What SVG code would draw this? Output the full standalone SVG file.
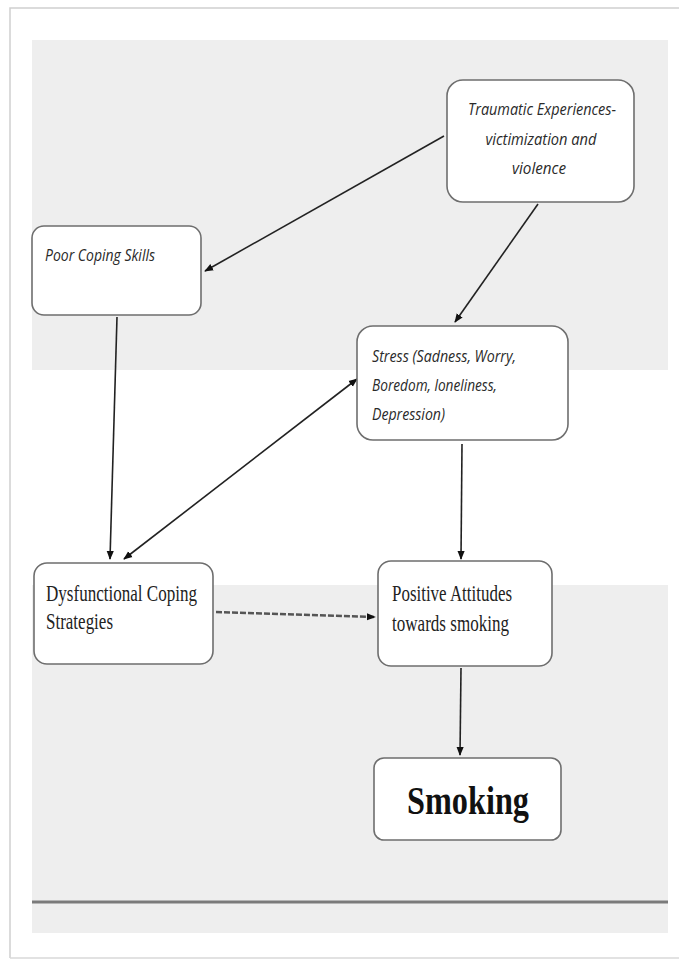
<svg xmlns="http://www.w3.org/2000/svg" width="679" height="962" viewBox="0 0 679 962">
<style>
.band{fill:#eeeeee}
.box{fill:#ffffff;stroke:#6e6e6e;stroke-width:1.6}
.it{font-family:"Open Sans","Noto Sans",sans-serif;font-style:italic;font-size:16px;fill:#2a2a2a}
.tm{font-family:"Liberation Serif","Times New Roman",serif;font-size:23px;fill:#222}
.ln{stroke:#222;stroke-width:1.6;fill:none}
</style>
<defs>
<marker id="ah" viewBox="0 0 10 10" refX="9" refY="5" markerWidth="9" markerHeight="9" orient="auto-start-reverse" markerUnits="userSpaceOnUse">
<path d="M0,1 L10,5 L0,9 z" fill="#111"/>
</marker>
</defs>
<rect x="0" y="0" width="679" height="962" fill="#ffffff"/>
<path d="M10,958 L10,8 L679,8" fill="none" stroke="#cfcfcf" stroke-width="1.5"/>
<line x1="10" y1="958" x2="679" y2="958" stroke="#d8d8d8" stroke-width="1.5"/>
<rect class="band" x="32" y="40" width="636" height="330"/>
<rect class="band" x="32" y="585" width="636" height="348"/>
<line x1="32" y1="902" x2="668" y2="902" stroke="#7a7a7a" stroke-width="3"/>

<g id="connectors">
<line class="ln" x1="444" y1="136" x2="205" y2="271" marker-end="url(#ah)"/>
<line class="ln" x1="538" y1="204" x2="455" y2="322" marker-end="url(#ah)"/>
<line class="ln" x1="117" y1="317" x2="110" y2="559" marker-end="url(#ah)"/>
<line class="ln" x1="124" y1="559" x2="357" y2="379" marker-start="url(#ah)" marker-end="url(#ah)"/>
<line class="ln" x1="462" y1="444" x2="461" y2="559" marker-end="url(#ah)"/>
<line x1="216" y1="612" x2="375" y2="617" stroke="#555" stroke-width="2.4" stroke-dasharray="6 2" marker-end="url(#ah)"/>
<line class="ln" x1="461" y1="668" x2="460" y2="755" marker-end="url(#ah)"/>
</g>

<g id="traumatic">
<rect class="box" x="447" y="80" width="187" height="122" rx="16"/>
<text class="it" x="542" y="115" text-anchor="middle" textLength="148" lengthAdjust="spacingAndGlyphs">Traumatic Experiences-</text>
<text class="it" x="541" y="145" text-anchor="middle" textLength="111" lengthAdjust="spacingAndGlyphs">victimization and</text>
<text class="it" x="539" y="174" text-anchor="middle" textLength="54" lengthAdjust="spacingAndGlyphs">violence</text>
</g>

<g id="poor-coping">
<rect class="box" x="32" y="226" width="169" height="89" rx="12"/>
<text class="it" x="45" y="261" textLength="110" lengthAdjust="spacingAndGlyphs">Poor Coping Skills</text>
</g>

<g id="stress">
<rect class="box" x="357" y="326" width="211" height="114" rx="16"/>
<text class="it" x="372" y="362" textLength="144" lengthAdjust="spacingAndGlyphs">Stress (Sadness, Worry,</text>
<text class="it" x="372" y="391" textLength="125" lengthAdjust="spacingAndGlyphs">Boredom, loneliness,</text>
<text class="it" x="372" y="420" textLength="73" lengthAdjust="spacingAndGlyphs">Depression)</text>
</g>

<g id="dysfunctional">
<rect class="box" x="34" y="563" width="179" height="101" rx="13"/>
<text class="tm" x="46" y="601" textLength="151" lengthAdjust="spacingAndGlyphs">Dysfunctional Coping</text>
<text class="tm" x="46" y="629" textLength="67" lengthAdjust="spacingAndGlyphs">Strategies</text>
</g>

<g id="positive">
<rect class="box" x="378" y="561" width="174" height="105" rx="13"/>
<text class="tm" x="392" y="601" textLength="120" lengthAdjust="spacingAndGlyphs">Positive Attitudes</text>
<text class="tm" x="392" y="631" textLength="117" lengthAdjust="spacingAndGlyphs">towards smoking</text>
</g>

<g id="smoking">
<rect class="box" x="374" y="758" width="187" height="82" rx="10"/>
<text x="468" y="814" text-anchor="middle" textLength="122" lengthAdjust="spacingAndGlyphs" font-family="Liberation Serif,'Times New Roman',serif" font-weight="bold" font-size="40" fill="#111">Smoking</text>
</g>
</svg>
